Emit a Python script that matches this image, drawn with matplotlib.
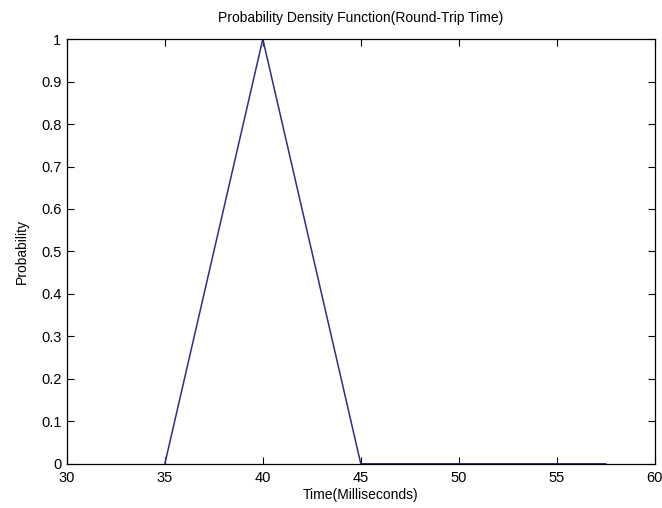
import matplotlib
matplotlib.use('Agg')
import matplotlib.pyplot as plt

# Datos
time_ms = [35, 40, 45, 50, 55, 57.5]
probability = [0, 1, 0, 0, 0, 0]
x_ticks = [30, 35, 40, 45, 50, 55, 60]
y_ticks = [0, 0.1, 0.2, 0.3, 0.4, 0.5, 0.6, 0.7, 0.8, 0.9, 1]
y_labels = ['0', '0.1', '0.2', '0.3', '0.4', '0.5', '0.6', '0.7', '0.8', '0.9', '1']

plt.rcParams['font.family'] = ['Liberation Sans', 'DejaVu Sans']

fig = plt.figure(figsize=(6.62, 5.08), dpi=100)
ax = fig.add_axes([0.101, 0.087, 0.888, 0.836])

ax.plot(time_ms, probability, color='#2e2e86', linewidth=1.1)

ax.set_xlim(30, 60)
ax.set_ylim(0, 1)
ax.set_xticks(x_ticks)
ax.set_yticks(y_ticks)
ax.set_yticklabels(y_labels)
ax.tick_params(direction='in', top=True, right=True, length=5, width=0.8,
               labelsize=10.5)
ax.tick_params(axis='x', pad=5)
ax.tick_params(axis='y', pad=4)
for s in ax.spines.values():
    s.set_linewidth(0.9)

ax.set_xlabel('Time(Milliseconds)', fontsize=10, labelpad=2)
ax.set_ylabel('Probability', fontsize=10, labelpad=9)
ax.set_title('Probability Density Function(Round-Trip Time)', fontsize=10, pad=12)

fig.savefig('out.png', dpi=100)
